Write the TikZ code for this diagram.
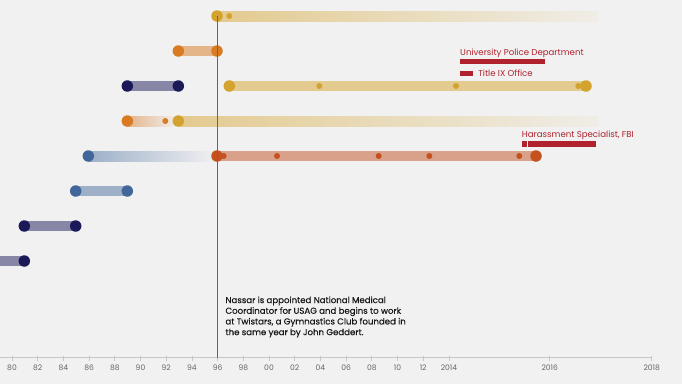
\documentclass[tikz,border=0pt]{standalone}
\usepackage{fontspec}
\setmainfont{Poppins}
\newfontfamily\notefont[FakeBold=0.4]{Poppins}
\usetikzlibrary{positioning}
\definecolor{bgcol}{HTML}{F1F1F1}
\definecolor{gold}{HTML}{D4A22E}
\definecolor{goldbar}{HTML}{E3CA8F}
\definecolor{orng}{HTML}{D97B22}
\definecolor{orngbar}{HTML}{E5B58A}
\definecolor{navy}{HTML}{1B1957}
\definecolor{navybar}{HTML}{8886A6}
\definecolor{steel}{HTML}{41679A}
\definecolor{steelbar}{HTML}{9DB0C8}
\definecolor{rust}{HTML}{C5511F}
\definecolor{rustbar}{HTML}{D9A18A}
\definecolor{crimson}{HTML}{B0222E}
\definecolor{axisgray}{HTML}{C6C6C6}
\tikzstyle{bar}=[line width=10pt]
\tikzstyle{bigdot}=[circle, inner sep=0pt, minimum size=11.5pt]
\tikzstyle{smalldot}=[circle, inner sep=0pt, minimum size=6pt]
\tikzstyle{redbar}=[rectangle, fill=crimson, inner sep=0pt, minimum height=5.3pt,
		anchor=west]
\tikzstyle{tag}=[text=crimson, inner sep=0pt, font=\fontsize{8.6}{10}\selectfont]
\tikzstyle{yearlab}=[text=black!60, inner sep=0pt, font=\fontsize{7.6}{9}\selectfont]

\begin{document}
\begin{tikzpicture}[x=1pt,y=-1pt]

    \fill[bgcol] (0,0) rectangle (682,384);
    \useasboundingbox (0,0) rectangle (682,384);

    % rows, one every 35px
    \coordinate (r1a) at (217,16);   \coordinate (r1b) at (229.3,16);
    \coordinate (r2a) at (178.3,51); \coordinate (r2b) at (217,51);
    \coordinate (r3a) at (127.3,86); \coordinate (r3b) at (178.3,86);
    \coordinate (r3c) at (229.3,86); \coordinate (r3d) at (586,86);
    \coordinate (r4a) at (127.3,121); \coordinate (r4b) at (178.3,121);
    \coordinate (r5a) at (88.3,156); \coordinate (r5b) at (217,156);
    \coordinate (r5c) at (536,156);
    \coordinate (r6a) at (75.7,191); \coordinate (r6b) at (127.3,191);
    \coordinate (r7a) at (24.3,226); \coordinate (r7b) at (75.7,226);
    \coordinate (r8a) at (0,261);    \coordinate (r8b) at (24.3,261);

    % fading bars
    \shade[left color=goldbar, right color=goldbar!10!bgcol]
        ([yshift=5pt]r1a) rectangle ([yshift=-5pt]598,16);
    \shade[left color=goldbar, right color=goldbar!10!bgcol]
        ([yshift=5pt]r4b) rectangle ([yshift=-5pt]598,121);
    \shade[left color=orngbar, right color=bgcol]
        ([yshift=5pt]r4a) rectangle ([yshift=-5pt]r4b);
    \shade[left color=steelbar, right color=bgcol]
        ([yshift=5pt]r5a) rectangle ([yshift=-5pt]r5b);

    % plain bars
    \draw[bar, orngbar] (r2a) -- (r2b);
    \draw[bar, navybar] (r3a) -- (r3b);
    \draw[bar, goldbar] (r3c) -- (r3d);
    \draw[bar, rustbar] (r5b) -- (r5c);
    \draw[bar, steelbar] (r6a) -- (r6b);
    \draw[bar, navybar] (r7a) -- (r7b);
    \draw[bar, navybar] (r8a) -- (r8b);

    % dots
    \node (d1a) [bigdot, fill=gold] at (r1a) {};
    \node (d1b) [smalldot, fill=gold] at (r1b) {};
    \node (d2a) [bigdot, fill=orng] at (r2a) {};
    \node (d2b) [bigdot, fill=orng] at (r2b) {};
    \node (d3a) [bigdot, fill=navy] at (r3a) {};
    \node (d3b) [bigdot, fill=navy] at (r3b) {};
    \node (d3c) [bigdot, fill=gold] at (r3c) {};
    \node (d3e) [smalldot, fill=gold] at (319.3,86) {};
    \node (d3f) [smalldot, fill=gold] at (456,86) {};
    \node (d3g) [smalldot, fill=gold] at (578.3,86) {};
    \node (d3d) [bigdot, fill=gold] at (r3d) {};
    \node (d4a) [bigdot, fill=orng] at (r4a) {};
    \node (d4c) [smalldot, fill=orng] at (165.3,121) {};
    \node (d4b) [bigdot, fill=gold] at (r4b) {};
    \node (d5a) [bigdot, fill=steel] at (r5a) {};
    \node (d5b) [bigdot, fill=rust] at (r5b) {};
    \node (d5d) [smalldot, fill=rust] at (223.7,156) {};
    \node (d5e) [smalldot, fill=rust] at (277,156) {};
    \node (d5f) [smalldot, fill=rust] at (378.7,156) {};
    \node (d5g) [smalldot, fill=rust] at (429.3,156) {};
    \node (d5h) [smalldot, fill=rust] at (519.3,156) {};
    \node (d5c) [bigdot, fill=rust] at (r5c) {};
    \node (d6a) [bigdot, fill=steel] at (r6a) {};
    \node (d6b) [bigdot, fill=steel] at (r6b) {};
    \node (d7a) [bigdot, fill=navy] at (r7a) {};
    \node (d7b) [bigdot, fill=navy] at (r7b) {};
    \node (d8b) [bigdot, fill=navy] at (r8b) {};

    % red annotations
    \node (updbar) [redbar, minimum width=85pt] at (460,61.7) {};
    \node (upd) [tag, anchor=base west] at ([yshift=3.4pt]updbar.north west)
        {University Police Department};
    \node (tixbar) [redbar, minimum width=13pt] at (460,73.3) {};
    \node (tix) [tag, right=4.7pt of tixbar] {Title IX Office};
    \node (fbibar1) [redbar, minimum width=4.6pt] at (521.7,144) {};
    \node (fbibar2) [redbar, minimum width=67.7pt, right=1pt of fbibar1] {};
    \node (fbi) [tag, anchor=base west] at ([yshift=3.4pt]fbibar1.north west)
        {Harassment Specialist, FBI};

    % axis
    \coordinate (ax0) at (0,357.6);
    \coordinate (ax1) at (652,357.6);
    \draw[axisgray, line width=1.2pt] (ax0) -- (ax1);
    \foreach \lab [count=\i from 0] in {80,82,84,86,88,90,92,94,96,98,00,02,04,06,08,10,12}{
        \draw[axisgray, line width=0.8pt] (12+\i*25.7,355.6) -- (12+\i*25.7,360.8);
        \node (yr\i) [yearlab] at (12+\i*25.7,368) {\lab};
    }
    \foreach \lab/\x in {2014/449, 2016/549.7, 2018/651.7}{
        \draw[axisgray, line width=0.8pt] (\x,355.6) -- (\x,360.8);
        \node (yr\lab) [yearlab] at (\x,368) {\lab};
    }

    % 1996 marker
    \draw[black!60, line width=1pt] (d1a.center) -- (d1a.center |- ax0);
    \node (note) [anchor=north west, inner sep=0pt, align=left, text=black!90,
        font=\notefont\fontsize{8.6}{10.7}\selectfont] at (225.3,296.3)
        {Nassar is appointed National Medical\\
         Coordinator for USAG and begins to work\\
         at Twistars, a Gymnastics Club founded in\\
         the same year by John Geddert.};

\end{tikzpicture}
\end{document}
